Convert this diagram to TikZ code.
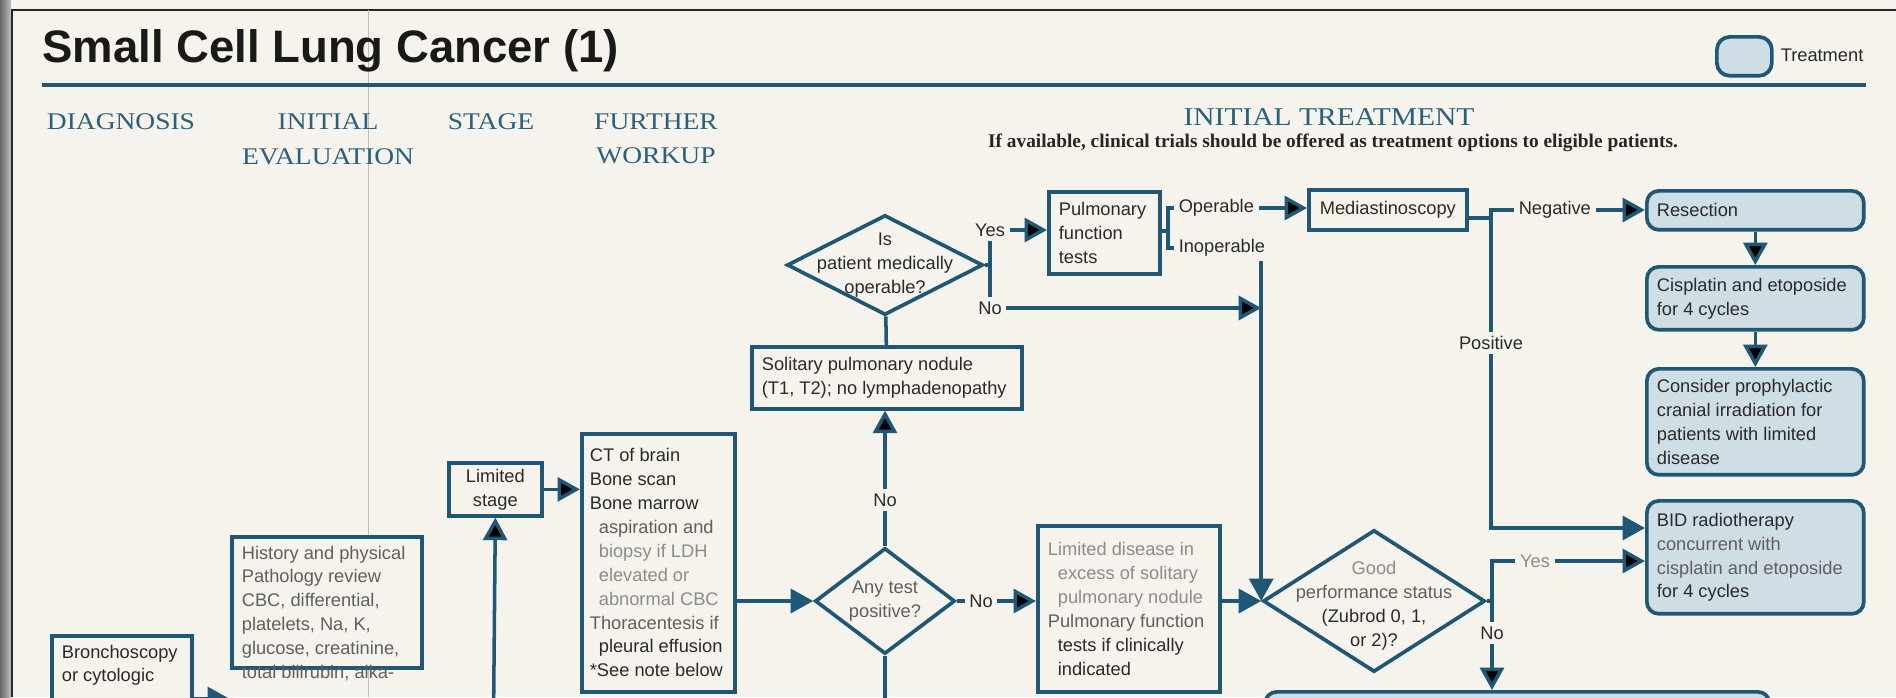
\documentclass[tikz,border=0pt]{standalone}
\usepackage{fontspec}
\setmainfont{Liberation Sans}
\newfontfamily\headfont[FakeStretch=1.15]{Liberation Serif}
\newfontfamily\notefont{Liberation Serif}
\usetikzlibrary{arrows.meta,shapes.geometric}
\definecolor{paper}{RGB}{245,243,235}
\definecolor{flowblue}{RGB}{31,87,118}
\definecolor{headblue}{RGB}{40,96,126}
\definecolor{treatfill}{RGB}{207,221,228}
\definecolor{ink}{RGB}{42,42,42}
\definecolor{inkmid}{RGB}{95,95,95}
\definecolor{inklight}{RGB}{140,140,140}

\begin{document}
\begin{tikzpicture}[x=0.02cm, y=-0.02cm,
	every node/.style={font=\fontsize{10.4}{13.6}\selectfont, text=ink},
	box/.style={draw=flowblue, line width=2.1pt, fill=paper, anchor=north west, align=flush left, inner xsep=0.2cm, inner ysep=0.18cm},
	cbox/.style={draw=flowblue, line width=2.1pt, fill=paper, anchor=north west, align=center, inner sep=0pt},
	treat/.style={box, fill=treatfill, rounded corners=0.24cm},
	decision/.style={shape=diamond, draw=flowblue, line width=2.1pt, fill=paper, inner sep=0pt},
	lbl/.style={inner sep=2.5pt},
	head/.style={font=\headfont\fontsize{13.6}{19.9}\selectfont, text=headblue, align=center, inner sep=0pt, anchor=north},
	link/.style={draw=flowblue, line width=2pt},
	flow/.style={link, -{Triangle[length=0.45cm, width=0.48cm]}}]
	\useasboundingbox (0,0) rectangle (1896,697);
	\clip (0,0) rectangle (1896,697);
	\fill[paper] (0,0) rectangle (1896,697);
	\shade[left color=black!60, right color=black!25] (0,0) rectangle (11,697);
	\draw[black!85, line width=1.3pt] (12,697) -- (12,10) -- (1896,10);
	\draw[black!25, line width=0.5pt] (368,10) -- (368,697);

	\node[font=\bfseries\fontsize{25.9}{30}\selectfont, text=black!90, anchor=base west, inner sep=0pt] (0) at (42,62) {Small Cell Lung Cancer (1)};
	\draw[flowblue, line width=2.6pt] (42,85) -- (1866,85);
	\node[treat, minimum width=1.1cm, minimum height=0.78cm, rounded corners=0.26cm, inner sep=0pt] (1) at (1715,35) {};
	\node[lbl, anchor=west]  (2) at (1776,55)  {Treatment};

	\node[head]              (3) at (121,113)  {DIAGNOSIS};
	\node[head]              (4) at (328,113)  {INITIAL\\EVALUATION};
	\node[head]              (5) at (491,113)  {STAGE};
	\node[head]              (6) at (656,113)  {FURTHER\\WORKUP};
	\node[head, font=\headfont\fontsize{14.6}{19.9}\selectfont] (7) at (1329,108) {INITIAL TREATMENT};
	\node[font=\notefont\bfseries\fontsize{11}{13}\selectfont, text=black!85, anchor=base, inner sep=0pt] (8) at (1333,147) {If available, clinical trials should be offered as treatment options to eligible patients.};

	\node[box, text width=2.4cm, text depth=2cm]  (10) at (50,634)  {Bronchoscopy\\or cytologic};
	\node[box, text width=3.4cm, text depth=2cm, text=inkmid] (11) at (230,535) {History and physical\\Pathology review\\CBC, differential,\\platelets, Na, K,\\glucose, creatinine,\\total bilirubin, alka-};
	\node[cbox, minimum width=1.86cm, minimum height=1.06cm] (12) at (447,461) {Limited\\stage};
	\node[box, inner xsep=0.16cm, text width=2.74cm, minimum height=5.16cm] (13) at (580,432) {CT of brain\\Bone scan\\Bone marrow\\\hspace*{0.18cm}{\color{inkmid}aspiration~and}\\\hspace*{0.18cm}{\color{inklight}biopsy~if~LDH}\\\hspace*{0.18cm}{\color{inklight}elevated~or}\\\hspace*{0.18cm}{\color{inklight}abnormal~CBC}\\{\color{inkmid}Thoracentesis~if}\\\hspace*{0.18cm}pleural~effusion\\{}*See~note~below};
	\node[decision, minimum width=2.8cm, minimum height=2.12cm] (14) at (885,601) {};
	\node[align=center, text=inkmid] (14a) at (14) {Any test\\positive?};
	\node[box, text width=5.0cm, minimum height=1.24cm] (15) at (750,345) {Solitary pulmonary nodule\\(T1, T2);~no~lymphadenopathy};
	\node[decision, minimum width=3.92cm, minimum height=2cm] (16) at (885,265) {};
	\node[align=center] (16a) at (16) {Is\\patient medically\\operable?};
	\node[box, text width=1.82cm, minimum width=2.22cm, minimum height=1.64cm] (17) at (1047,190) {Pulmonary\\function\\tests};
	\node[cbox, minimum width=3.16cm, minimum height=0.8cm] (18) at (1307,188) {Mediastinoscopy};
	\node[treat, text width=3.94cm, minimum height=0.78cm] (19) at (1645,189) {Resection};
	\node[treat, text width=3.94cm, minimum height=1.26cm] (20) at (1645,265) {Cisplatin and etoposide\\for 4 cycles};
	\node[treat, text width=3.94cm, minimum height=2.12cm] (21) at (1645,367) {Consider prophylactic\\cranial irradiation for\\patients with limited\\disease};
	\node[treat, text width=3.94cm, minimum height=2.26cm] (22) at (1645,499) {BID radiotherapy\\{\color{inkmid}concurrent with}\\{\color{inkmid}cisplatin and etoposide}\\for 4 cycles};
	\node[box, text width=3.24cm, minimum height=3.32cm] (23) at (1036,524) {{\color{inklight}Limited disease in}\\\hspace*{0.2cm}{\color{inklight}excess of solitary}\\\hspace*{0.2cm}{\color{inklight}pulmonary nodule}\\{\color{inkmid}Pulmonary~function}\\\hspace*{0.2cm}tests if clinically\\\hspace*{0.2cm}indicated};
	\node[decision, minimum width=4.44cm, minimum height=2.84cm] (24) at (1374,601) {};
	\node[align=center] (24a) at (1374,606) {{\color{inklight}Good}\\{\color{inkmid}performance status}\\(Zubrod 0, 1,\\or 2)?};
	\node[treat, minimum width=10.1cm, minimum height=2cm, inner sep=0pt] (25) at (1263,690) {};

	\node[lbl]               (30) at (990,230)  {Yes};
	\node[lbl]               (31) at (990,308)  {No};
	\node[lbl]               (32) at (885,500)  {No};
	\node[lbl]               (33) at (981,601)  {No};
	\node[lbl, anchor=west]  (34) at (1174,208) {Operable};
	\node[lbl, anchor=west]  (35) at (1174,248) {Inoperable};
	\node[lbl, anchor=west]  (36) at (1514,210) {Negative};
	\node[lbl]               (37) at (1491,343) {Positive};
	\node[lbl, text=inklight] (38) at (1535,561) {Yes};
	\node[lbl]               (39) at (1492,633) {No};

	\coordinate (c0) at (493.5,720);
	\coordinate (c1) at (885,720);
	\coordinate (c2) at (0,699);
	\coordinate (b1) at (1168,231);
	\coordinate (b2) at (1491,218);
	\coordinate (c3) at (1491,528);

	\draw [flow] (10.east |- c2) -- (11.west |- c2);
	\path [flow] (c0) edge (12.south);
	\path [flow] (12) edge (12 -| 13.west);
	\draw [flow] (13.east |- 14) -- (14.west);
	\path [link] (14) edge (32);
	\path [flow] (32) edge (32 |- 15.south);
	\path [link] (14.south) edge (c1);
	\path [link] (14) edge (33);
	\path [flow] (33) edge (33 -| 23.west);
	\draw [flow] (23.east |- 24) -- (24.west);
	\path [link] (15) edge (16);
	\draw [link] (16.east) -- (16.east -| 30);
	\path [link] (30) edge (31);
	\path [flow] (30) edge (30 -| 17.west);
	\path [flow] (31) edge (31 -| 24.west);
	\draw [link] (17.east |- b1) -- (b1);
	\draw [link] (34.west) -| (b1) |- (35.west);
	\path [flow] (34) edge (34 -| 18.west);
	\draw [flow] (24.west |- 35.south) -- (24.west);
	\draw [link] (18.east |- b2) -- (b2);
	\draw [link] (36.west) -| (b2);
	\path [flow] (36) edge (36 -| 19.west);
	\path [flow] (19) edge (20);
	\path [flow] (20) edge (21);
	\path [link] (b2) edge (37);
	\draw [flow] (37) |- (c3 -| 22.west);
	\draw [link] (24.east) -- (24.east -| 39);
	\draw [link] (38.west) -| (39);
	\path [flow] (38) edge (38 -| 22.west);
	\path [flow] (39) edge (39 |- 25.north);
\end{tikzpicture}
\end{document}
